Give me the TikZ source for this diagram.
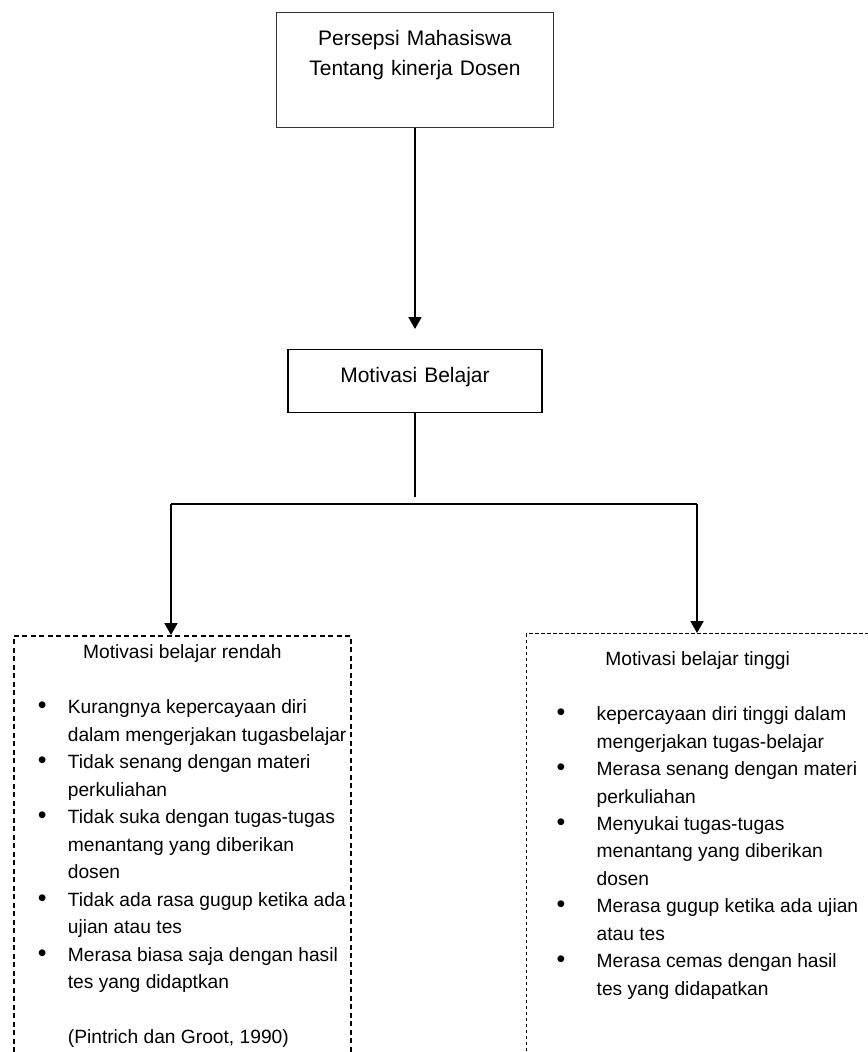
\documentclass[tikz,border=0pt]{standalone}
\usepackage{fontspec}
\setmainfont{Liberation Sans}
\usepackage{tikz}
\usetikzlibrary{arrows.meta}
\setlength{\unitlength}{0.75pt}
\newcommand{\hurufatas}{\fontsize{15.75pt}{22.5pt}\selectfont}
\newcommand{\hurufbawah}{\fontsize{14.4pt}{20.6pt}\selectfont}
\newcommand{\titik}{\scalebox{1.3}{\textbullet}}
\tikzstyle{kotakatas}=[rectangle, draw=black!80, line width=0.9pt, anchor=north,
inner sep=0pt, align=center, font=\hurufatas]
\tikzstyle{kotakputus}=[rectangle, draw, anchor=north west, inner sep=0pt,
font=\hurufbawah]
\tikzstyle{garis}=[line width=1.5pt]
\tikzstyle{panah}=[garis, ->, >={Triangle[length=9pt,width=9.75pt]}]

\begin{document}
\begin{tikzpicture}[x=0.75pt, y=-0.75pt]
\useasboundingbox (0,0) rectangle (867,1052);

% Persepsi
\path (415,12) node[kotakatas, text width=277\unitlength,
	text height=33\unitlength, text depth=82\unitlength] (persepsi)
	{Persepsi Mahasiswa\\Tentang kinerja Dosen};

% Motivasi belajar
\path (415,349) node[kotakatas, text width=254\unitlength, draw=black, line width=1.1pt,
	text height=33\unitlength, text depth=30\unitlength] (motivasi)
	{Motivasi Belajar};

\draw[panah, shorten >=20\unitlength] (persepsi) -- (motivasi);

% Rendah
\path (13,635) node[kotakputus, dash pattern=on 5\unitlength off 3.5\unitlength,
	line width=1.3pt, text height=23\unitlength, text depth=430\unitlength] (rendah) {%
\begin{tabular}[t]{@{\hspace{24\unitlength}}p{30\unitlength}@{}l@{}}
\multicolumn{2}{@{}c@{}}{\makebox[337\unitlength]{Motivasi belajar rendah}}\\
 & \\
\titik & Kurangnya kepercayaan diri\\
 & dalam mengerjakan tugasbelajar\\
\titik & Tidak senang dengan materi\\
 & perkuliahan\\
\titik & Tidak suka dengan tugas-tugas\\
 & menantang yang diberikan\\
 & dosen\\
\titik & Tidak ada rasa gugup ketika ada\\
 & ujian atau tes\\
\titik & Merasa biasa saja dengan hasil\\
 & tes yang didaptkan\\
 & \\
 & (Pintrich dan Groot, 1990)
\end{tabular}};

% Tinggi
\path (526,633) node[kotakputus, dash pattern=on 3.5\unitlength off 2.5\unitlength,
	line width=1pt, minimum width=342\unitlength,
	text height=32\unitlength, text depth=430\unitlength] (tinggi) {%
\begin{tabular}[t]{@{\hspace{30\unitlength}}p{40\unitlength}@{}l@{}}
\multicolumn{2}{@{}c@{}}{\makebox[342\unitlength]{Motivasi belajar tinggi}}\\
 & \\
\titik & kepercayaan diri tinggi dalam\\
 & mengerjakan tugas-belajar\\
\titik & Merasa senang dengan materi\\
 & perkuliahan\\
\titik & Menyukai tugas-tugas\\
 & menantang yang diberikan\\
 & dosen\\
\titik & Merasa gugup ketika ada ujian\\
 & atau tes\\
\titik & Merasa cemas dengan hasil\\
 & tes yang didapatkan
\end{tabular}};

% Cabang
\coordinate (pangkal) at (415,497);
\coordinate (kiri) at (171,504);
\coordinate (kanan) at (697,504);
\draw[garis] (motivasi) -- (pangkal);
\draw[garis] (kiri) -- (kanan);
\draw[panah] (kiri) -- (kiri |- rendah.north);
\draw[panah] (kanan) -- (kanan |- tinggi.north);

\end{tikzpicture}
\end{document}
